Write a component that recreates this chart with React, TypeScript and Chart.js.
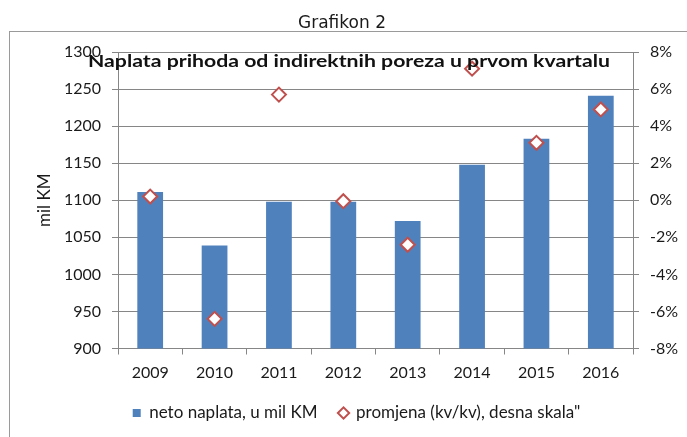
import React, { useEffect, useRef } from "react";
import { Chart, registerables } from "chart.js";

Chart.register(...registerables);

const years = ["2009", "2010", "2011", "2012", "2013", "2014", "2015", "2016"];
const netoNaplata = [1111, 1039, 1098, 1098, 1072, 1148, 1183, 1241];
const promjena = [0.2, -6.4, 5.7, -0.05, -2.4, 7.1, 3.1, 4.9];
const outerTitle = "Grafikon 2";
const chartTitle = "Naplata prihoda od indirektnih poreza u prvom kvartalu";
const yAxisTitle = "mil KM";
const seriesLabels = ["neto naplata, u mil KM", 'promjena (kv/kv), desna skala"'];

const FONT = "Lato, 'Open Sans', sans-serif";
const PAD_LEFT = 26;

const decor = {
  id: "decor",
  beforeDraw(chart: any) {
    const { ctx, width, height } = chart;
    ctx.save();
    ctx.fillStyle = "#ffffff";
    ctx.fillRect(0, 0, width, height);
    ctx.strokeStyle = "#9a9a9a";
    ctx.lineWidth = 1;
    ctx.strokeRect(9.5, 31.5, width + 20, height + 20);
    ctx.fillStyle = "#1a1a1a";
    ctx.font = "17px 'DejaVu Sans', sans-serif";
    ctx.textAlign = "center";
    ctx.textBaseline = "alphabetic";
    ctx.fillText(outerTitle, 342, 28);
    ctx.restore();
  },
  afterDraw(chart: any) {
    const { ctx } = chart;
    ctx.save();
    ctx.fillStyle = "#111111";
    ctx.font = `bold 17px ${FONT}`;
    ctx.textAlign = "center";
    ctx.textBaseline = "alphabetic";
    const w = ctx.measureText(chartTitle).width;
    const sx = w > 0 ? 522 / w : 1;
    ctx.translate(349, 67);
    ctx.scale(sx, 1);
    ctx.fillText(chartTitle, 0, 0);
    ctx.restore();
  },
};

export default function App() {
  const ref = useRef<HTMLCanvasElement | null>(null);

  useEffect(() => {
    if (!ref.current) return;
    const chart = new Chart(ref.current, {
      type: "bar",
      data: {
        labels: years,
        datasets: [
          {
            type: "bar",
            label: seriesLabels[0],
            data: netoNaplata,
            backgroundColor: "#4F81BD",
            borderColor: "#4F81BD",
            borderWidth: 0,
            barPercentage: 0.4,
            categoryPercentage: 1,
            yAxisID: "y",
            order: 1,
            pointStyle: "rect",
          } as any,
          {
            type: "line",
            label: seriesLabels[1],
            data: promjena,
            showLine: false,
            pointStyle: "rectRot",
            pointRadius: 7,
            pointBorderWidth: 2,
            borderWidth: 2,
            borderColor: "#C0504D",
            backgroundColor: "#ffffff",
            pointBackgroundColor: "#ffffff",
            pointBorderColor: "#C0504D",
            yAxisID: "y1",
            order: 0,
          } as any,
        ],
      },
      options: {
        responsive: false,
        animation: false,
        devicePixelRatio: 1,
        layout: { padding: { top: 52, left: PAD_LEFT, right: 0, bottom: 5.5 } },
        plugins: {
          title: { display: false },
          tooltip: { enabled: false },
          legend: {
            position: "bottom",
            labels: {
              usePointStyle: true,
              boxWidth: 8,
              boxHeight: 8,
              padding: 22,
              color: "#1a1a1a",
              font: { family: FONT, size: 17 },
              sort: (a: any, b: any) => a.datasetIndex - b.datasetIndex,
            },
          },
        },
        scales: {
          x: {
            type: "category",
            offset: true,
            grid: {
              display: true,
              offset: true,
              drawOnChartArea: false,
              drawTicks: true,
              tickLength: 6,
              color: "#868686",
            },
            border: { display: true, color: "#868686" },
            ticks: {
              color: "#1a1a1a",
              padding: 9,
              font: { family: FONT, size: 16 },
              maxRotation: 0,
            },
            afterFit: (s: any) => {
              s.height = 34;
            },
          },
          y: {
            type: "linear",
            position: "left",
            min: 900,
            max: 1300,
            ticks: {
              stepSize: 50,
              color: "#1a1a1a",
              padding: 11,
              font: { family: FONT, size: 16 },
              callback: (v: any) => String(v),
            },
            grid: { color: "#868686", tickLength: 6, drawTicks: true },
            border: { display: true, color: "#868686" },
            title: {
              display: true,
              text: yAxisTitle,
              color: "#1a1a1a",
              font: { family: FONT, size: 17 },
              padding: { top: 8, bottom: 0 },
            },
            afterFit: (s: any) => {
              s.width = 118 - PAD_LEFT;
            },
          },
          y1: {
            type: "linear",
            position: "right",
            min: -8,
            max: 8,
            ticks: {
              stepSize: 2,
              color: "#1a1a1a",
              padding: 11,
              font: { family: FONT, size: 16 },
              callback: (v: any) => `${v}%`,
            },
            grid: {
              color: "#868686",
              drawOnChartArea: false,
              tickLength: 6,
              drawTicks: true,
            },
            border: { display: true, color: "#868686" },
            afterFit: (s: any) => {
              s.width = 54;
            },
          },
        },
      },
      plugins: [decor],
    } as any);
    return () => chart.destroy();
  }, []);

  return (
    <div style={{ position: "absolute", left: 0, top: 0, width: 687, height: 437 }}>
      <canvas ref={ref} width={687} height={437} style={{ display: "block", width: 687, height: 437 }} />
    </div>
  );
}
